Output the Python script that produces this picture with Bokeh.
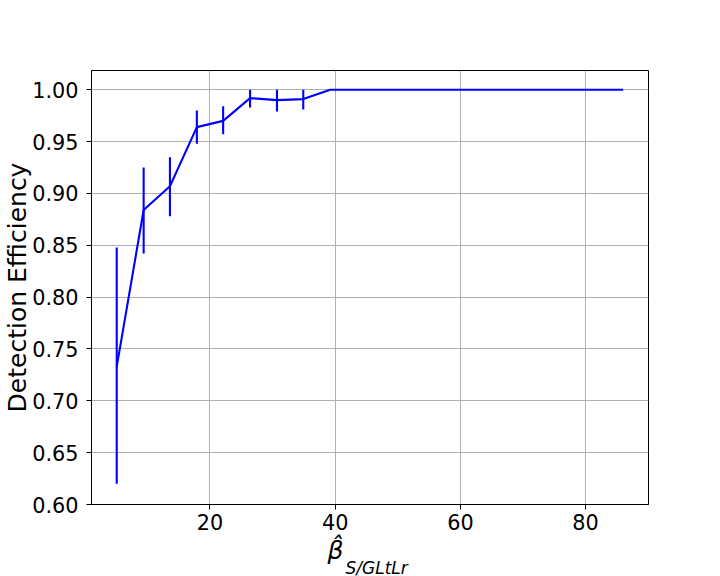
from bokeh.plotting import figure
from bokeh.models import Range1d, FixedTicker, NumeralTickFormatter, Title, ColumnDataSource
from bokeh.embed import file_html
from bokeh.resources import INLINE

beta = [5.1, 9.4, 13.6, 17.9, 22.1, 26.4, 30.7, 34.9, 39.2, 43.4,
        47.7, 52.0, 56.2, 60.5, 64.7, 69.0, 73.3, 77.5, 81.8, 86.0]
efficiency = [0.733, 0.884, 0.907, 0.964, 0.970, 0.992, 0.990, 0.991, 1.0, 1.0,
              1.0, 1.0, 1.0, 1.0, 1.0, 1.0, 1.0, 1.0, 1.0, 1.0]
err_low = [0.620, 0.842, 0.878, 0.948, 0.957, 0.983, 0.979, 0.981, 1.0, 1.0,
           1.0, 1.0, 1.0, 1.0, 1.0, 1.0, 1.0, 1.0, 1.0, 1.0]
err_high = [0.848, 0.925, 0.935, 0.980, 0.984, 1.0, 1.0, 1.0, 1.0, 1.0,
            1.0, 1.0, 1.0, 1.0, 1.0, 1.0, 1.0, 1.0, 1.0, 1.0]
y_ticks = [0.60, 0.65, 0.70, 0.75, 0.80, 0.85, 0.90, 0.95, 1.00]
x_ticks = [20, 40, 60, 80]
x_title = "\u03b2\u0302"
x_title_sub = "S/GLtLr"

src = ColumnDataSource(dict(x=beta, y=efficiency, lo=err_low, hi=err_high))

p = figure(width=720, height=576, output_backend="svg", toolbar_location=None,
           x_range=Range1d(1.07, 90.05), y_range=Range1d(0.60, 1.0186),
           min_border_left=91, min_border_right=72, min_border_top=70, min_border_bottom=72)

p.line("x", "y", source=src, line_color="#0000ff", line_width=2.1)
p.segment(x0="x", y0="lo", x1="x", y1="hi", source=src, line_color="#0000ff", line_width=2.1)

p.outline_line_color = "black"
p.outline_line_width = 1
p.outline_line_alpha = 1

for ax in (p.xaxis[0], p.yaxis[0]):
    ax.axis_line_color = "black"
    ax.major_tick_line_color = "black"
    ax.major_tick_out = 5
    ax.major_tick_in = 0
    ax.minor_tick_line_color = None
    ax.major_label_text_font = "DejaVu Sans"
    ax.major_label_text_font_size = "20.8px"
    ax.major_label_text_color = "black"
    ax.major_label_standoff = 4
    ax.axis_label_text_font = "DejaVu Sans"
    ax.axis_label_text_color = "black"

p.yaxis.major_label_standoff = 8
p.yaxis.ticker = FixedTicker(ticks=y_ticks)
p.yaxis.formatter = NumeralTickFormatter(format="0.00")
p.xaxis.ticker = FixedTicker(ticks=x_ticks)

p.yaxis.axis_label = "Detection Efficiency"
p.yaxis.axis_label_text_font_size = "25px"
p.yaxis.axis_label_text_font_style = "normal"
p.yaxis.axis_label_standoff = -3

t1 = Title(text=x_title, align="left", offset=236, standoff=2,
           text_font="DejaVu Sans", text_font_style="italic", text_font_size="25px",
           text_color="black")
t2 = Title(text=x_title_sub, align="left", offset=254, standoff=-20,
           text_font="DejaVu Sans", text_font_style="italic", text_font_size="17px",
           text_color="black")
p.add_layout(t1, "below")
p.add_layout(t2, "below")

p.grid.grid_line_color = "#b0b0b0"
p.grid.grid_line_width = 1
p.grid.grid_line_alpha = 1

p.background_fill_color = "white"
p.border_fill_color = "white"

open("out.html", "w").write(file_html(p, INLINE))
